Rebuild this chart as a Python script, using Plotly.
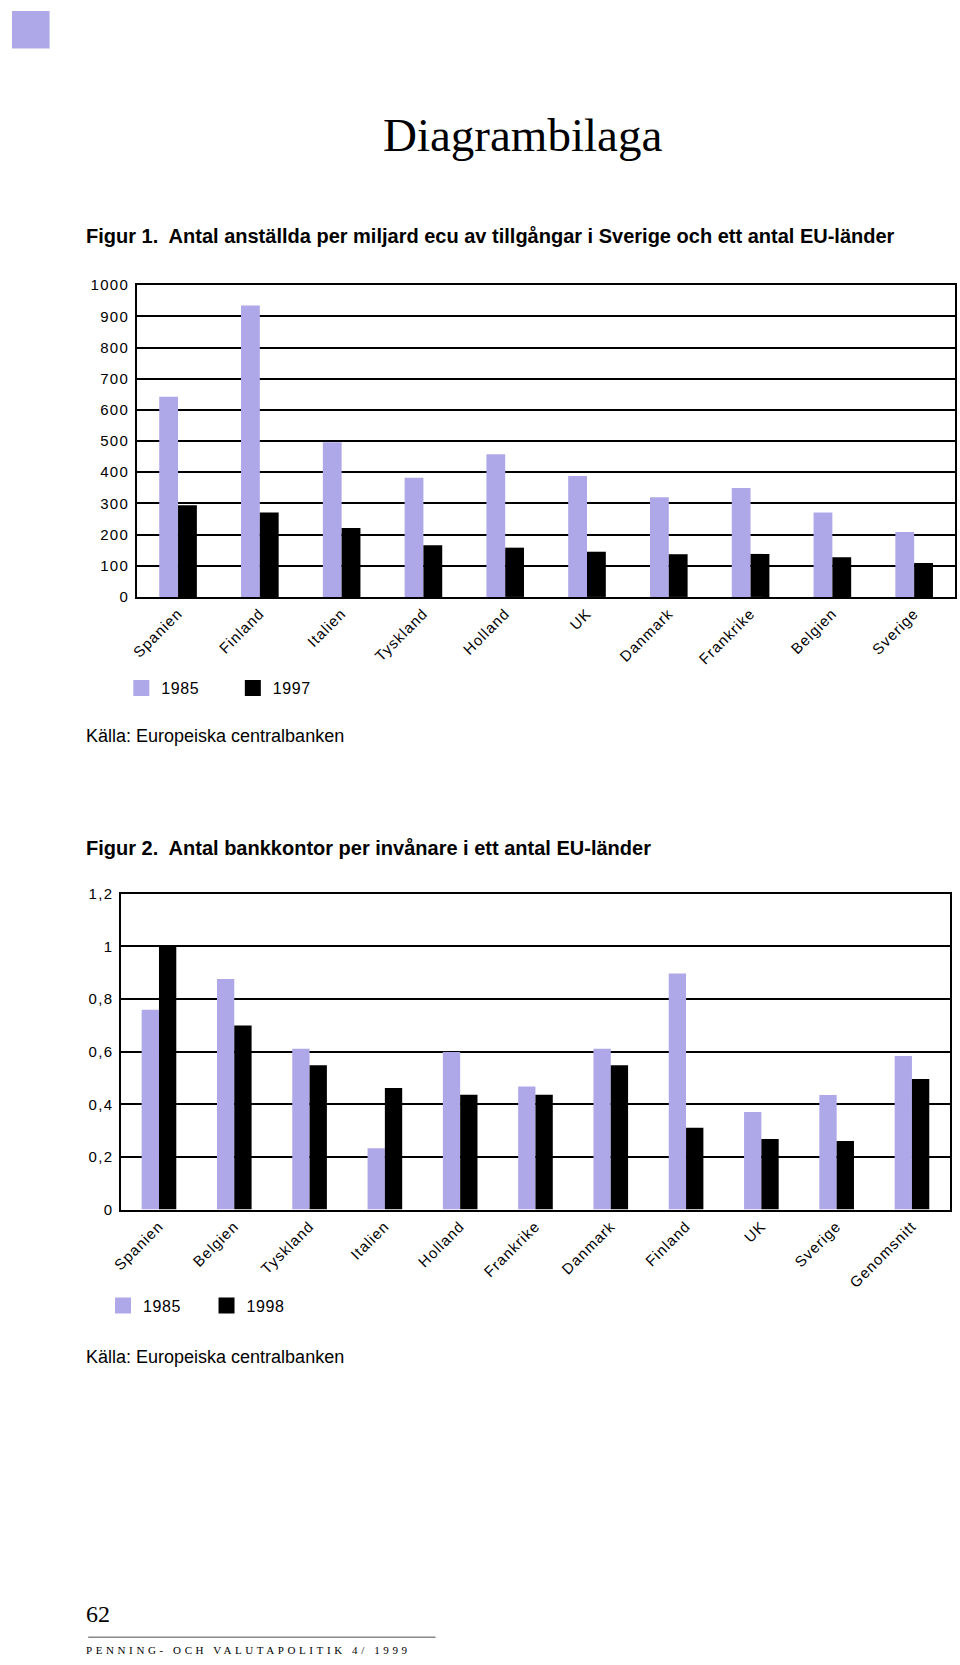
import plotly.graph_objects as go

# ---------- data ----------
fig1_categories = ["Spanien", "Finland", "Italien", "Tyskland", "Holland", "UK",
                   "Danmark", "Frankrike", "Belgien", "Sverige"]
fig1_1985 = [642, 935, 496, 382, 458, 388, 320, 349, 271, 208]
fig1_1997 = [294, 271, 221, 166, 158, 145, 137, 138, 127, 109]
fig1_yticks = [0, 100, 200, 300, 400, 500, 600, 700, 800, 900, 1000]
fig1_yticktext = ["0", "100", "200", "300", "400", "500", "600", "700", "800", "900", "1000"]

fig2_categories = ["Spanien", "Belgien", "Tyskland", "Italien", "Holland", "Frankrike",
                   "Danmark", "Finland", "UK", "Sverige", "Genomsnitt"]
fig2_1985 = [0.76, 0.876, 0.611, 0.233, 0.599, 0.468, 0.611, 0.897, 0.371, 0.436, 0.584]
fig2_1998 = [1.0, 0.70, 0.549, 0.462, 0.437, 0.437, 0.549, 0.311, 0.268, 0.261, 0.496]
fig2_ytickvals = [0, 0.2, 0.4, 0.6, 0.8, 1.0, 1.2]
fig2_yticktext = ["0", "0,2", "0,4", "0,6", "0,8", "1", "1,2"]

PURPLE = "#AFA8E8"
BLACK = "#000000"
SANS = "Liberation Sans, Arial, sans-serif"
SERIF = "Liberation Serif, Times New Roman, serif"
W, H = 960, 1665


def px_x(x):
    return x / W


def px_y(y):
    return 1 - y / H


def spaced(t, ls):
    return f'<span style="letter-spacing:{ls}px">{t}</span>'


fig = go.Figure()

# bars
fig.add_trace(go.Bar(x=fig1_categories, y=fig1_1985, name="1985", marker_color=PURPLE,
                     marker_line_width=0, xaxis="x", yaxis="y", showlegend=False))
fig.add_trace(go.Bar(x=fig1_categories, y=fig1_1997, name="1997", marker_color=BLACK,
                     marker_line_width=0, xaxis="x", yaxis="y", showlegend=False))
fig.add_trace(go.Bar(x=fig2_categories, y=fig2_1985, name="1985", marker_color=PURPLE,
                     marker_line_width=0, xaxis="x2", yaxis="y2", showlegend=False))
fig.add_trace(go.Bar(x=fig2_categories, y=fig2_1998, name="1998", marker_color=BLACK,
                     marker_line_width=0, xaxis="x2", yaxis="y2", showlegend=False))

# legend entries (square swatches, larger than the default bar icon)
for nm, col, lg, xa, ya in [("1985", PURPLE, "legend", "x", "y"),
                            ("1997", BLACK, "legend", "x", "y"),
                            ("1985", PURPLE, "legend2", "x2", "y2"),
                            ("1998", BLACK, "legend2", "x2", "y2")]:
    fig.add_trace(go.Scatter(x=[None], y=[None], mode="markers", name=spaced(nm, 0.6),
                             marker=dict(symbol="square", size=16, color=col, line_width=0),
                             xaxis=xa, yaxis=ya, legend=lg, showlegend=True,
                             hoverinfo="skip"))

axis_common = dict(showline=True, mirror=True, linecolor="black", linewidth=2,
                   ticks="", zeroline=False)
TICK_LS = 1.3

fig.update_layout(
    width=W, height=H,
    margin=dict(l=0, r=0, t=0, b=0),
    paper_bgcolor="white", plot_bgcolor="white",
    barmode="group", bargap=0.54, bargroupgap=0,
    font=dict(family=SANS, color="black", size=15),
    xaxis=dict(domain=[px_x(128.5), px_x(955)], anchor="y", type="category",
               categoryorder="array", categoryarray=fig1_categories,
               tickvals=fig1_categories,
               ticktext=[spaced(c, 1.0) for c in fig1_categories],
               tickangle=-45, tickfont=dict(size=15), showgrid=False, **axis_common),
    yaxis=dict(domain=[px_y(594), px_y(279)], anchor="x", range=[0, 1000],
               tickvals=fig1_yticks, ticktext=[spaced(t, TICK_LS) for t in fig1_yticktext],
               showgrid=True, gridcolor="black", gridwidth=2,
               tickfont=dict(size=15), ticklabelstandoff=3, **axis_common),
    xaxis2=dict(domain=[px_x(112.5), px_x(949.5)], anchor="y2", type="category",
                categoryorder="array", categoryarray=fig2_categories,
                tickvals=fig2_categories,
                ticktext=[spaced(c, 1.0) for c in fig2_categories],
                tickangle=-45, tickfont=dict(size=15), showgrid=False, **axis_common),
    yaxis2=dict(domain=[px_y(1213), px_y(894)], anchor="x2", range=[0, 1.2],
                tickvals=fig2_ytickvals,
                ticktext=[spaced(t, TICK_LS) for t in fig2_yticktext],
                showgrid=True, gridcolor="black", gridwidth=2,
                tickfont=dict(size=15), ticklabelstandoff=3, **axis_common),
    legend=dict(orientation="h", x=px_x(112.5), xanchor="left", y=px_y(686), yanchor="middle",
                font=dict(size=16), entrywidth=66.5, entrywidthmode="pixels",
                bgcolor="rgba(0,0,0,0)", traceorder="normal", itemsizing="trace"),
    legend2=dict(orientation="h", x=px_x(94), xanchor="left", y=px_y(1310), yanchor="middle",
                 font=dict(size=16), entrywidth=58.5, entrywidthmode="pixels",
                 bgcolor="rgba(0,0,0,0)", traceorder="normal", itemsizing="trace"),
    showlegend=True,
)

# decorative square top-left
fig.add_shape(type="rect", xref="paper", yref="paper",
              x0=px_x(2), x1=px_x(40), y0=px_y(40), y1=px_y(2),
              fillcolor=PURPLE, line_width=0)
# footer line
fig.add_shape(type="line", xref="paper", yref="paper",
              x0=px_x(79), x1=px_x(430), y0=px_y(1645), y1=px_y(1645),
              line=dict(color="#888888", width=1.5))

AX = 75
annotations = [
    dict(text="Diagrambilaga", x=px_x(518), y=px_y(127), xanchor="center", yanchor="middle",
         font=dict(family=SERIF, size=47)),
    dict(text="<b>Figur 1.\u00a0 Antal anställda per miljard ecu av tillgångar i Sverige och ett antal EU-länder</b>",
         x=px_x(AX), y=px_y(229), xanchor="left", yanchor="middle",
         font=dict(family="Liberation Sans Narrow, Liberation Sans, Arial", size=20)),
    dict(text="Källa: Europeiska centralbanken", x=px_x(AX), y=px_y(735),
         xanchor="left", yanchor="middle", font=dict(family=SANS, size=18)),
    dict(text="<b>Figur 2.\u00a0 Antal bankkontor per invånare i ett antal EU-länder</b>",
         x=px_x(AX), y=px_y(848), xanchor="left", yanchor="middle",
         font=dict(family="Liberation Sans Narrow, Liberation Sans, Arial", size=20)),
    dict(text="Källa: Europeiska centralbanken", x=px_x(AX), y=px_y(1362),
         xanchor="left", yanchor="middle", font=dict(family=SANS, size=18)),
    dict(text="62", x=px_x(AX), y=px_y(1622), xanchor="left", yanchor="middle",
         font=dict(family=SERIF, size=24)),
    dict(text=spaced("PENNING- OCH VALUTAPOLITIK 4/ 1999", 3.6),
         x=px_x(AX), y=px_y(1658), xanchor="left", yanchor="middle",
         font=dict(family=SERIF, size=11)),
]
for a in annotations:
    a.update(xref="paper", yref="paper", showarrow=False)
    fig.add_annotation(**a)

POST = ("document.documentElement.style.margin='0';"
        "document.body.style.margin='0';document.body.style.padding='0';"
        "document.body.style.overflow='hidden';"
        "var gd=document.getElementById('{plot_id}');"
        "gd.style.position='fixed';gd.style.left='0px';gd.style.top='0px';")

fig.write_html("out.html", post_script=POST)
